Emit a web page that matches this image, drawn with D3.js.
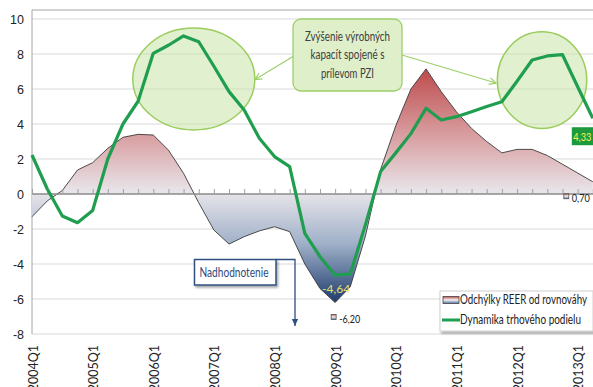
<!DOCTYPE html>
<html>
<head>
<meta charset="utf-8">
<script src="https://cdn.jsdelivr.net/npm/d3@7"></script>
<style>
  html, body { margin: 0; padding: 0; background: #fff; }
  svg { display: block; font-family: Lato, "Open Sans", sans-serif; }
</style>
</head>
<body>
<svg id="chart" width="593" height="387"></svg>
<script>
// Quarterly categories, 2004Q1 – 2013Q2
const quarters = [
  "2004Q1","2004Q2","2004Q3","2004Q4",
  "2005Q1","2005Q2","2005Q3","2005Q4",
  "2006Q1","2006Q2","2006Q3","2006Q4",
  "2007Q1","2007Q2","2007Q3","2007Q4",
  "2008Q1","2008Q2","2008Q3","2008Q4",
  "2009Q1","2009Q2","2009Q3","2009Q4",
  "2010Q1","2010Q2","2010Q3","2010Q4",
  "2011Q1","2011Q2","2011Q3","2011Q4",
  "2012Q1","2012Q2","2012Q3","2012Q4",
  "2013Q1","2013Q2"
];
// Odchýlky REER od rovnováhy (area)
const reerGap = [
  -1.30, -0.40, 0.20, 1.37, 1.79, 2.61, 3.24, 3.41,
  3.37, 2.51, 1.18, -0.50, -2.06, -2.86, -2.44, -2.11,
  -1.87, -2.15, -4.00, -5.40, -6.20, -5.30, -2.40, 1.40,
  3.90, 6.00, 7.15, 5.85, 4.70, 3.75, 3.00, 2.35,
  2.55, 2.55, 2.20, 1.70, 1.20, 0.70
];
// Dynamika trhového podielu (line)
const marketShare = [
  2.23, 0.30, -1.26, -1.64, -0.94, 2.00, 4.00, 5.30,
  8.04, 8.50, 9.03, 8.70, 7.30, 5.85, 4.80, 3.18,
  2.14, 1.56, -2.25, -3.58, -4.64, -4.57, -1.75, 1.28,
  2.35, 3.45, 4.90, 4.23, 4.42, 4.70, 5.00, 5.27,
  6.44, 7.66, 7.89, 7.96, 6.13, 4.33
];
const yTicks = [-8, -6, -4, -2, 0, 2, 4, 6, 8, 10];
const seriesNames = ["Odchýlky REER od rovnováhy", "Dynamika trhového podielu"];
const calloutLines = ["Zvýšenie výrobných", "kapacít spojené s", "prílevom PZI"];
const overvaluedLabel = "Nadhodnotenie";
// highlighted regions: quarter-index span and value span
const highlightIdx = [[6.65, 14.7], [30.7, 36.6]];
const highlightVal = [[3.66, 9.48], [3.75, 9.27]];
// value labels: [series, quarter]
const valueLabels = [["reer", "2009Q1"], ["share", "2009Q1"], ["reer", "2013Q2"], ["share", "2013Q2"]];

const svg = d3.select("#chart");
const plotLeft = 32, plotTop = 10, plotRight = 593, plotBottom = 334;

const x = d3.scalePoint().domain(quarters).range([plotLeft, 592.8]);
const xi = d3.scaleLinear().domain([0, quarters.length - 1]).range(x.range());
const y = d3.scaleLinear().domain([-8, 10]).range([plotBottom, 19]);

// hyphen minus and decimal comma, as in Slovak typesetting of the source
const sk = d3.formatLocale({ decimal: ",", thousands: " ", grouping: [3], currency: ["", " €"], minus: "-" });
const fmtInt = sk.format("d");
const fmt = sk.format(".2f");

// narrow the sans face a little so labels keep the compact width of the original typography
const squeeze = (sel, w) => sel.attr("textLength", w).attr("lengthAdjust", "spacingAndGlyphs");

const defs = svg.append("defs");
const grad = defs.append("linearGradient")
  .attr("id", "reerFill").attr("gradientUnits", "userSpaceOnUse")
  .attr("x1", 0).attr("x2", 0).attr("y1", y(7.2)).attr("y2", y(-6.2));
const gStops = [[0, "#bd4a4c"], [0.27, "#d7999b"], [0.53, "#e8e5ea"], [0.75, "#9fb0c8"], [1, "#1f3c6e"]];
gStops.forEach(([o, c]) => grad.append("stop").attr("offset", o).attr("stop-color", c));

const keyGrad = defs.append("linearGradient")
  .attr("id", "keyFill").attr("x1", 0).attr("x2", 0).attr("y1", 0).attr("y2", 1);
[[0, "#c0504d"], [0.5, "#f4f2f4"], [1, "#4f6d9e"]].forEach(([o, c]) => keyGrad.append("stop").attr("offset", o).attr("stop-color", c));

const shadow = defs.append("filter").attr("id", "shadow").attr("x", "-10%").attr("y", "-10%").attr("width", "130%").attr("height", "140%");
shadow.append("feDropShadow").attr("dx", 1.5).attr("dy", 2).attr("stdDeviation", 1.2).attr("flood-color", "#000").attr("flood-opacity", 0.35);

defs.append("marker").attr("id", "arrowGreen").attr("viewBox", "0 0 10 10")
  .attr("refX", 9).attr("refY", 5).attr("markerWidth", 7).attr("markerHeight", 7).attr("orient", "auto")
  .append("path").attr("d", "M1,1 L9,5 L1,9").attr("fill", "none").attr("stroke", "#9ccf6a").attr("stroke-width", 1.4);
defs.append("marker").attr("id", "arrowBlue").attr("viewBox", "0 0 10 10")
  .attr("refX", 9).attr("refY", 5).attr("markerWidth", 6).attr("markerHeight", 6).attr("orient", "auto")
  .append("path").attr("d", "M0,1 L9,5 L0,9 Z").attr("fill", "#2f4f80");

// gridlines
svg.append("g").selectAll("line").data(yTicks.filter(d => d !== 0)).join("line")
  .attr("x1", plotLeft).attr("x2", plotRight).attr("y1", d => y(d)).attr("y2", d => y(d))
  .attr("stroke", "#d9d9d9").attr("stroke-width", 1);

// plot frame (top and left)
svg.append("path").attr("d", `M${plotLeft},${plotBottom}V${plotTop}H${plotRight}`)
  .attr("fill", "none").attr("stroke", "#a6a6a6").attr("stroke-width", 1);

// y axis labels
const yAxis = d3.axisLeft(y).tickValues(yTicks).tickSize(0).tickPadding(8).tickFormat(fmtInt);
const ya = svg.append("g").attr("transform", `translate(${plotLeft},0)`).call(yAxis);
ya.select(".domain").remove();
ya.selectAll("text").attr("font-size", 12.5).attr("fill", "#222").attr("font-family", null);

// REER deviation area
const area = d3.area().x((d, i) => x(quarters[i])).y0(y(0)).y1(d => y(d));
svg.append("path").datum(reerGap).attr("d", area).attr("fill", "url(#reerFill)");
svg.append("path").datum(reerGap)
  .attr("d", d3.line().x((d, i) => x(quarters[i])).y(d => y(d)))
  .attr("fill", "none").attr("stroke", "#3a3a3a").attr("stroke-width", 0.9);

// zero axis with category ticks
const xAxis = d3.axisTop(x).tickSize(5).tickFormat("");
const xa = svg.append("g").attr("transform", `translate(0,${y(0)})`).call(xAxis);
xa.select(".domain").attr("stroke", "#8a8a8a").attr("stroke-width", 1.4).attr("d", `M${plotLeft},0H${plotRight}`);
xa.selectAll(".tick line").attr("stroke", "#a0a0a0");

// year labels along the bottom
const yearQ = quarters.filter(q => q.endsWith("Q1"));
svg.append("g").selectAll("text").data(yearQ).join("text")
  .attr("transform", q => `translate(${x(q) + 1},${plotBottom + 11}) rotate(-90)`)
  .attr("text-anchor", "end").attr("dy", "0.36em")
  .attr("font-size", 12.5).attr("fill", "#222").text(q => q);

// highlight ellipses
highlightIdx.forEach(([a, b], k) => {
  const [lo, hi] = highlightVal[k];
  svg.append("ellipse")
    .attr("cx", (xi(a) + xi(b)) / 2).attr("cy", (y(lo) + y(hi)) / 2)
    .attr("rx", (xi(b) - xi(a)) / 2).attr("ry", (y(lo) - y(hi)) / 2)
    .attr("fill", "#c9e4a6").attr("fill-opacity", 0.55).attr("stroke", "#9acd5e").attr("stroke-width", 1.5);
});

// market share line
svg.append("path").datum(marketShare)
  .attr("d", d3.line().x((d, i) => x(quarters[i])).y(d => y(d)))
  .attr("fill", "none").attr("stroke", "#1f9e4f").attr("stroke-width", 3.2).attr("stroke-linejoin", "round");

// callout box and arrows
const cb = { x: 293, y: 19, w: 109, h: 72 };
svg.append("path").attr("d", `M${cb.x},56.5L255,79.5`).attr("stroke", "#9ccf6a").attr("stroke-width", 1.2).attr("marker-end", "url(#arrowGreen)");
svg.append("path").attr("d", `M${cb.x + cb.w},55L496,83`).attr("stroke", "#9ccf6a").attr("stroke-width", 1.2).attr("marker-end", "url(#arrowGreen)");
svg.append("rect").attr("x", cb.x).attr("y", cb.y).attr("width", cb.w).attr("height", cb.h).attr("rx", 8)
  .attr("fill", "#deefc9").attr("stroke", "#9ccf6a").attr("stroke-width", 1.3);
const calloutWidths = [85, 74, 53];
svg.append("g").selectAll("text").data(calloutLines).join("text")
  .attr("x", cb.x + cb.w / 2).attr("y", (d, i) => 40.5 + i * 18.5).attr("text-anchor", "middle")
  .attr("font-size", 12.5).attr("fill", "#404040").text(d => d)
  .each(function (d, i) { squeeze(d3.select(this), calloutWidths[i]); });

// overvaluation note
svg.append("path").attr("d", "M276,259.5H295V326").attr("fill", "none").attr("stroke", "#2f4f80").attr("stroke-width", 1.3).attr("marker-end", "url(#arrowBlue)");
svg.append("rect").attr("x", 194.5).attr("y", 259.5).attr("width", 81.5).attr("height", 25.5)
  .attr("fill", "#fff").attr("stroke", "#2f4f80").attr("stroke-width", 1.5).attr("filter", "url(#shadow)");
squeeze(svg.append("text").attr("x", 199.5).attr("y", 276.5)
  .attr("font-size", 12.5).attr("fill", "#2f4b7c").text(overvaluedLabel), 69);

// value labels
valueLabels.forEach(([s, q]) => {
  const i = quarters.indexOf(q);
  const v = s === "reer" ? reerGap[i] : marketShare[i];
  const px = x(q), py = y(v);
  if (s === "share" && i === quarters.length - 1) {
    svg.append("rect").attr("x", px - 21).attr("y", py + 9).attr("width", 22).attr("height", 18).attr("fill", "#1d9a3c");
    squeeze(svg.append("text").attr("x", px - 19.5).attr("y", py + 22.5).attr("font-size", 12).attr("fill", "#f2f25a").text(fmt(v)), 18);
  } else if (s === "share") {
    svg.append("text").attr("x", px + 1).attr("y", py + 17.5).attr("text-anchor", "middle")
      .attr("font-size", 12).attr("fill", "#e6e06a").text(fmt(v));
  } else {
    const lx = i === quarters.length - 1 ? px - 29 : px - 4, ly = py + 16;
    svg.append("rect").attr("x", lx).attr("y", ly - 4).attr("width", 5).attr("height", 5)
      .attr("fill", "url(#keyFill)").attr("stroke", "#555").attr("stroke-width", 0.8);
    squeeze(svg.append("text").attr("x", lx + 8).attr("y", ly + 0.5).attr("dy", "0.32em")
      .attr("font-size", 11.5).attr("fill", "#222").text(fmt(v)), v < 0 ? 21 : 18);
  }
});

// legend
const lg = svg.append("g").attr("transform", "translate(440,291)");
lg.append("rect").attr("width", 153).attr("height", 40).attr("fill", "#fff").attr("stroke", "#d0d0d0").attr("filter", "url(#shadow)");
lg.append("rect").attr("x", 3).attr("y", 5.5).attr("width", 16).attr("height", 7)
  .attr("fill", "url(#keyFill)").attr("stroke", "#444").attr("stroke-width", 0.8);
lg.append("line").attr("x1", 2).attr("x2", 20).attr("y1", 29).attr("y2", 29).attr("stroke", "#1f9e4f").attr("stroke-width", 3);
const legendWidths = [127, 121];
lg.selectAll("text.item").data(seriesNames).join("text").attr("class", "item")
  .attr("x", 20).attr("y", (d, i) => 9 + i * 20).attr("dy", "0.35em")
  .attr("font-size", 12.5).attr("fill", "#222").text(d => d)
  .each(function (d, i) { squeeze(d3.select(this), legendWidths[i]); });
</script>
</body>
</html>
